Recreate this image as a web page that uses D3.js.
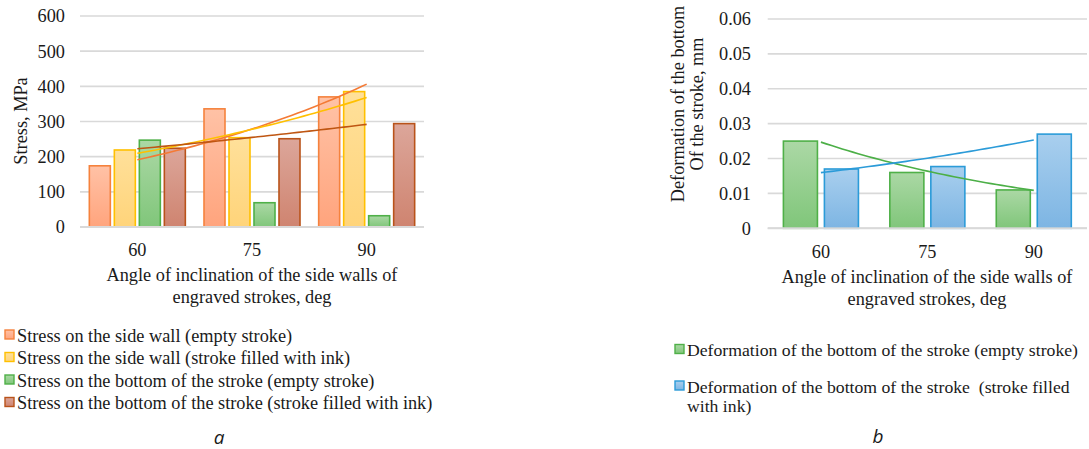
<!DOCTYPE html>
<html>
<head>
<meta charset="utf-8">
<script src="https://cdn.jsdelivr.net/npm/d3@7"></script>
<style>
  html, body { margin: 0; padding: 0; background: #fff; }
  svg { display: block; }
  text { font-family: "Liberation Serif", "Times New Roman", serif; fill: #1a1a1a; white-space: pre; }
  .panel-tag { font-family: "Open Sans", "Noto Sans", sans-serif; font-style: italic; }
</style>
</head>
<body>
<svg id="chart" width="1089" height="449"></svg>
<script>
// ---- data ----
const categories = ["60", "75", "90"];

// panel a: stress, MPa
const stressSeries = [
  "Stress on the side wall (empty stroke)",
  "Stress on the side wall (stroke filled with ink)",
  "Stress on the bottom of the stroke (empty stroke)",
  "Stress on the bottom of the stroke (stroke filled with ink)"
];
const sideWallEmpty   = [174, 336, 370];
const sideWallInk     = [219, 254, 385];
const bottomEmpty     = [247, 69, 32];
const bottomInk       = [224, 251, 294];
const stressTicks     = [0, 100, 200, 300, 400, 500, 600];

// panel b: deformation of the bottom, mm
const deformSeries = [
  "Deformation of the bottom of the stroke (empty stroke)",
  "Deformation of the bottom of the stroke  (stroke filled with ink)"
];
const deformEmpty = [0.025, 0.016, 0.011];
const deformInk   = [0.017, 0.0177, 0.027];
const deformTicks = [0, 0.01, 0.02, 0.03, 0.04, 0.05, 0.06];

const xTitle = ["Angle of inclination of the side walls of", "engraved strokes, deg"];

// ---- styling ----
const FS = 18.3;
const palette = {
  orange: { top: "#ffc2a6", bottom: "#ffa47d", stroke: "#f5823d", trend: "#f47a35" },
  yellow: { top: "#ffe09a", bottom: "#ffd47a", stroke: "#ffc000", trend: "#ffc000" },
  green:  { top: "#abd8a5", bottom: "#80c67a", stroke: "#4fb048", trend: "#4caf47" },
  brown:  { top: "#dca69a", bottom: "#cf8470", stroke: "#b9531a", trend: "#bf5612" },
  blue:   { top: "#a9cfee", bottom: "#7db5e3", stroke: "#2b9bd8", trend: "#2b9bd8" }
};

const svg = d3.select("#chart");
const defs = svg.append("defs");
Object.entries(palette).forEach(([k, c]) => {
  const g = defs.append("linearGradient").attr("id", "grad-" + k)
    .attr("x1", 0).attr("y1", 0).attr("x2", 0).attr("y2", 1);
  g.append("stop").attr("offset", "0%").attr("stop-color", c.top);
  g.append("stop").attr("offset", "100%").attr("stop-color", c.bottom);
});

// exponential least-squares trend (y = a*e^(b*x)), x = 1..n
function expTrend(values) {
  const n = values.length;
  const xs = values.map((_, i) => i + 1);
  const ls = values.map(v => Math.log(v));
  const mx = d3.mean(xs), ml = d3.mean(ls);
  const b = d3.sum(xs, (x, i) => (x - mx) * (ls[i] - ml)) / d3.sum(xs, x => (x - mx) ** 2);
  const a = ml - b * mx;
  return d3.range(1, n + 0.001, (n - 1) / 40).map(x => [x, Math.exp(a + b * x)]);
}

function drawPanel(cfg) {
  const g = svg.append("g");
  const x = d3.scaleBand().domain(categories).range(cfg.xRange);
  const y = d3.scaleLinear().domain(cfg.yDomain).range(cfg.yRange);
  const inner = d3.scaleBand().domain(cfg.series.map((_, i) => i))
    .range(cfg.innerRange).paddingInner(cfg.padIn).paddingOuter(cfg.padOut);

  // gridlines
  g.append("g").selectAll("line").data(cfg.ticks).join("line")
    .attr("x1", cfg.xRange[0]).attr("x2", cfg.xRange[1])
    .attr("y1", d => y(d)).attr("y2", d => y(d))
    .attr("stroke", "#d9d9d9").attr("stroke-width", 1.6);

  // y tick labels
  const yAxis = d3.axisLeft(y).tickValues(cfg.ticks).tickFormat(cfg.fmt).tickSize(0).tickPadding(0);
  const ya = g.append("g").attr("transform", `translate(${cfg.yLabelX},0)`).call(yAxis);
  ya.select(".domain").remove();
  ya.selectAll("text").attr("font-size", FS).attr("font-family", "Liberation Serif").attr("fill", "#1a1a1a");

  // bars
  cfg.series.forEach((s, si) => {
    g.append("g").selectAll("rect").data(s.values).join("rect")
      .attr("x", (d, i) => x(categories[i]) + x.bandwidth() / 2 + inner(si))
      .attr("width", inner.bandwidth())
      .attr("y", d => y(d))
      .attr("height", d => y(0) - y(d))
      .attr("fill", `url(#grad-${s.color})`)
      .attr("stroke", palette[s.color].stroke).attr("stroke-width", 1.6);
  });

  // baseline
  g.append("line").attr("x1", cfg.xRange[0]).attr("x2", cfg.xRange[1])
    .attr("y1", y(0)).attr("y2", y(0)).attr("stroke", "#d9d9d9").attr("stroke-width", 2);

  // trendlines (only for series that carry one)
  const tx = d3.scaleLinear().domain([1, categories.length])
    .range([x(categories[0]) + x.bandwidth() / 2, x(categories[categories.length - 1]) + x.bandwidth() / 2]);
  const line = d3.line().x(d => tx(d[0])).y(d => y(d[1]));
  cfg.series.filter(s => s.trend).forEach(s => {
    g.append("path").datum(expTrend(s.values)).attr("d", line)
      .attr("fill", "none").attr("stroke", palette[s.color].trend).attr("stroke-width", 1.6);
  });

  // x tick labels
  const xAxis = d3.axisBottom(x).tickSize(0).tickPadding(0);
  const xa = g.append("g").attr("transform", `translate(0,${cfg.xLabelY})`).call(xAxis);
  xa.select(".domain").remove();
  xa.selectAll("text").attr("font-size", FS).attr("font-family", "Liberation Serif").attr("fill", "#1a1a1a");

  // x title
  xTitle.forEach((t, i) => {
    g.append("text").attr("x", cfg.xTitleX).attr("y", cfg.xTitleY + i * 22)
      .attr("text-anchor", "middle").attr("font-size", FS).text(t);
  });

  // y title
  cfg.yTitle.forEach((t, i) => {
    g.append("text")
      .attr("transform", `translate(${cfg.yTitleX + i * 19},${cfg.yTitleY}) rotate(-90)`)
      .attr("text-anchor", "middle").attr("font-size", FS).text(t);
  });

  // legend
  cfg.legend.forEach((item, i) => {
    const ly = cfg.legendY[i];
    g.append("rect").attr("x", cfg.legendX).attr("y", ly - 5.5).attr("width", 9).attr("height", 9)
      .attr("fill", `url(#grad-${item.color})`).attr("stroke", palette[item.color].stroke).attr("stroke-width", 1.4);
    item.lines.forEach((t, j) => {
      g.append("text").attr("x", cfg.legendX + 12).attr("y", ly + 6 + j * 19)
        .attr("font-size", cfg.legendFS).text(t);
    });
  });

  // panel tag
  g.append("text").attr("class", "panel-tag").attr("x", cfg.tagX).attr("y", cfg.tagY)
    .attr("text-anchor", "middle").attr("font-size", 19).text(cfg.tag);
}

drawPanel({
  xRange: [80, 424], yDomain: [0, 600], yRange: [227, 16],
  innerRange: [-50, 50], padIn: 0.16, padOut: 0.08,
  ticks: stressTicks, fmt: d3.format("d"), yLabelX: 65,
  series: [
    { values: sideWallEmpty, color: "orange", trend: true },
    { values: sideWallInk, color: "yellow", trend: true },
    { values: bottomEmpty, color: "green", trend: false },
    { values: bottomInk, color: "brown", trend: true }
  ],
  xLabelY: 243, xTitleX: 252, xTitleY: 281,
  yTitle: ["Stress, MPa"], yTitleX: 27, yTitleY: 121,
  legendX: 5, legendY: [335.5, 358, 380.5, 403], legendFS: FS,
  legend: [
    { color: "orange", lines: [stressSeries[0]] },
    { color: "yellow", lines: [stressSeries[1]] },
    { color: "green", lines: [stressSeries[2]] },
    { color: "brown", lines: [stressSeries[3]] }
  ],
  tag: "a", tagX: 219, tagY: 444
});

drawPanel({
  xRange: [767.7, 1087], yDomain: [0, 0.06], yRange: [228.3, 19],
  innerRange: [-41, 41], padIn: 0.17, padOut: 0.085,
  ticks: deformTicks, fmt: d => d === 0 ? "0" : d3.format(".2f")(d), yLabelX: 751,
  series: [
    { values: deformEmpty, color: "green", trend: true },
    { values: deformInk, color: "blue", trend: true }
  ],
  xLabelY: 245, xTitleX: 927, xTitleY: 283,
  yTitle: ["Deformation of the bottom", "Of the stroke, mm"], yTitleX: 684, yTitleY: 104,
  legendX: 675, legendY: [350, 386.5], legendFS: 17.7,
  legend: [
    { color: "green", lines: [deformSeries[0]] },
    { color: "blue", lines: ["Deformation of the bottom of the stroke  (stroke filled", "with ink)"] }
  ],
  tag: "b", tagX: 878, tagY: 443
});
</script>
</body>
</html>
